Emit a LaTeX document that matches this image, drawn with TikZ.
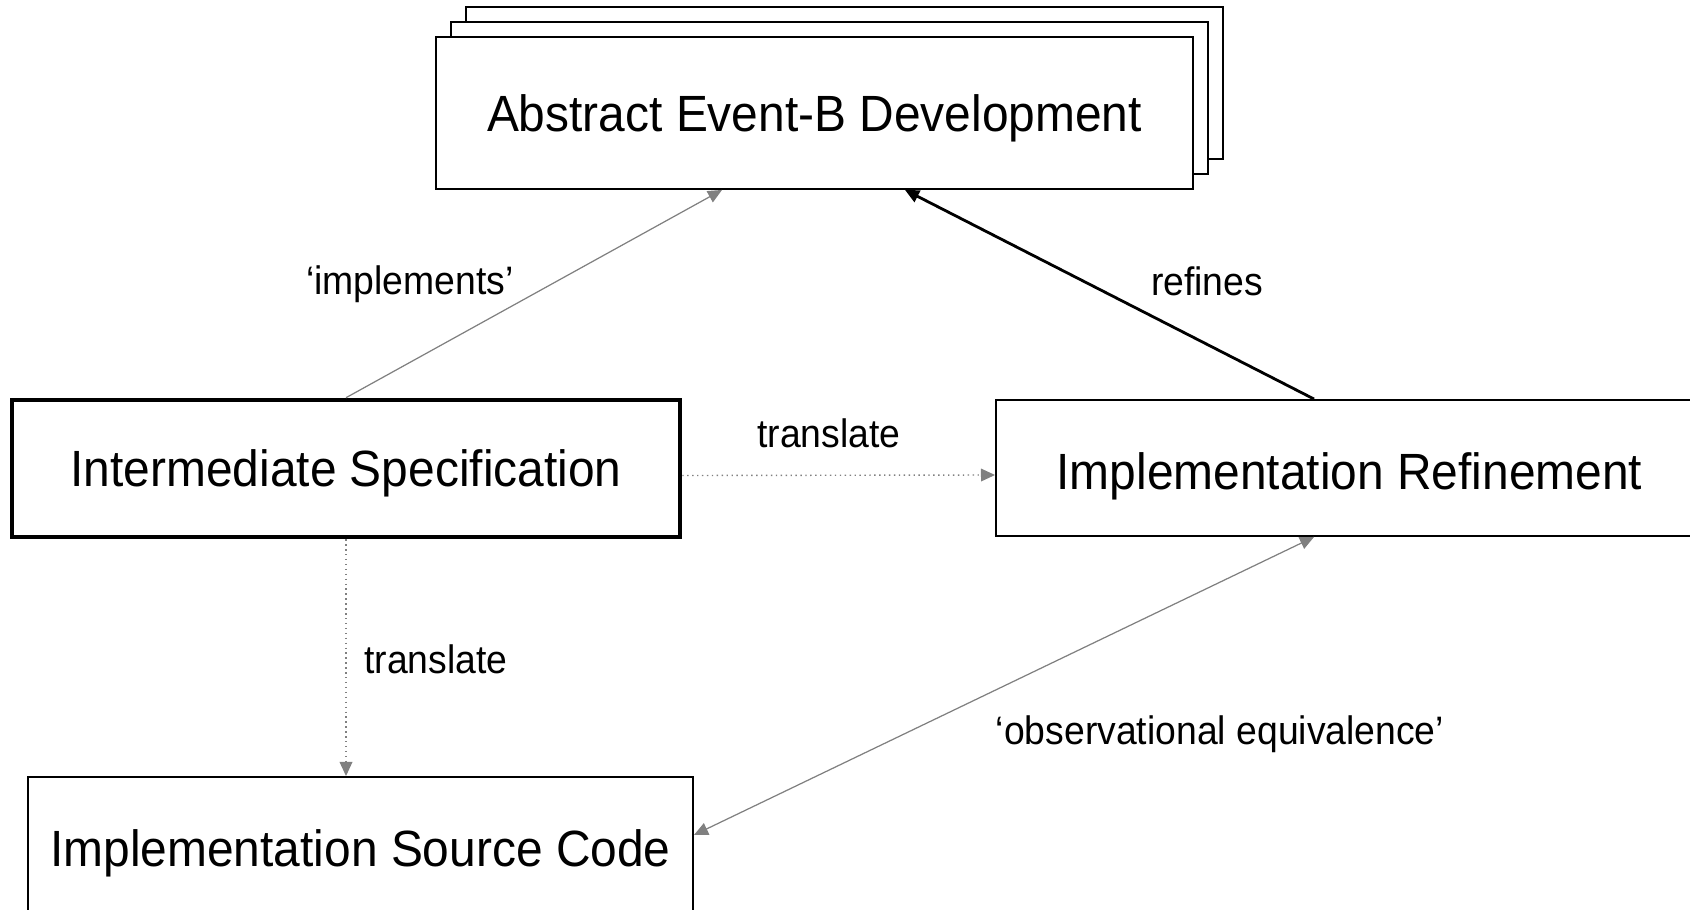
\documentclass[tikz,border=0pt]{standalone}
\usepackage{fontspec}
\setmainfont[FakeStretch=0.94]{Liberation Sans}
\usetikzlibrary{arrows.meta}

\begin{document}
\begin{tikzpicture}[
  box/.style={draw, line width=0.55pt, fill=white, inner sep=0pt, text depth=0pt, font=\fontsize{14.5}{17}\selectfont},
  lbl/.style={font=\fontsize{11.3}{13}\selectfont},
  tip/.style={-{Triangle[length=4pt,width=3.6pt]}},
  link/.style={tip, gray, line width=0.35pt},
  flow/.style={tip, gray, line width=0.4pt, densely dotted},
  refine/.style={tip, black, line width=0.8pt}]
  \useasboundingbox (0,0) rectangle (16.9,9.09);
  \clip (0,0) rectangle (16.9,9.09);
  \coordinate (abspos) at (8.145,7.96);
  \foreach \k in {2,1}
    \node[box, minimum width=7.57cm, minimum height=1.52cm] (layer\k) at ([shift={(\k*0.15,\k*0.15)}]abspos) {};
  \node[box, minimum width=7.57cm, minimum height=1.52cm] (abs) at (abspos) {Abstract Event-B Development};
  \node[box, line width=1.3pt, minimum width=6.68cm, minimum height=1.37cm] (inter) at (3.46,4.405) {Intermediate Specification};
  \node[box, text height=1.25em, minimum width=7.07cm, minimum height=1.36cm] (impl) at (13.495,4.41) {Implementation Refinement};
  \node[box, minimum width=6.65cm, minimum height=1.42cm] (src) at (3.605,0.61) {Implementation Source Code};

  \draw[link] (inter.north) -- ([xshift=-0.925cm]abs.south);
  \draw[refine] ([xshift=-0.355cm]impl.north) -- ([xshift=0.905cm]abs.south);
  \draw[flow] ([yshift=-0.07cm]inter.east) -- ([yshift=-0.07cm]impl.west);
  \draw[flow] (inter.south) -- (inter.south |- src.north);
  \draw[link, {Triangle[length=4pt,width=3.6pt]}-{Triangle[length=4pt,width=3.6pt]}] ([yshift=0.13cm]src.east) -- ([xshift=-0.355cm]impl.south);

  \node[lbl] (implements) at (4.10,6.25) {‘implements’};
  \node[lbl] (refines) at (12.07,6.28) {refines};
  \node[lbl] (transr) at (8.29,4.76) {translate};
  \node[lbl] (transd) at (4.36,2.50) {translate};
  \node[lbl] (obseq) at (12.20,1.75) {‘observational equivalence’};
\end{tikzpicture}
\end{document}
